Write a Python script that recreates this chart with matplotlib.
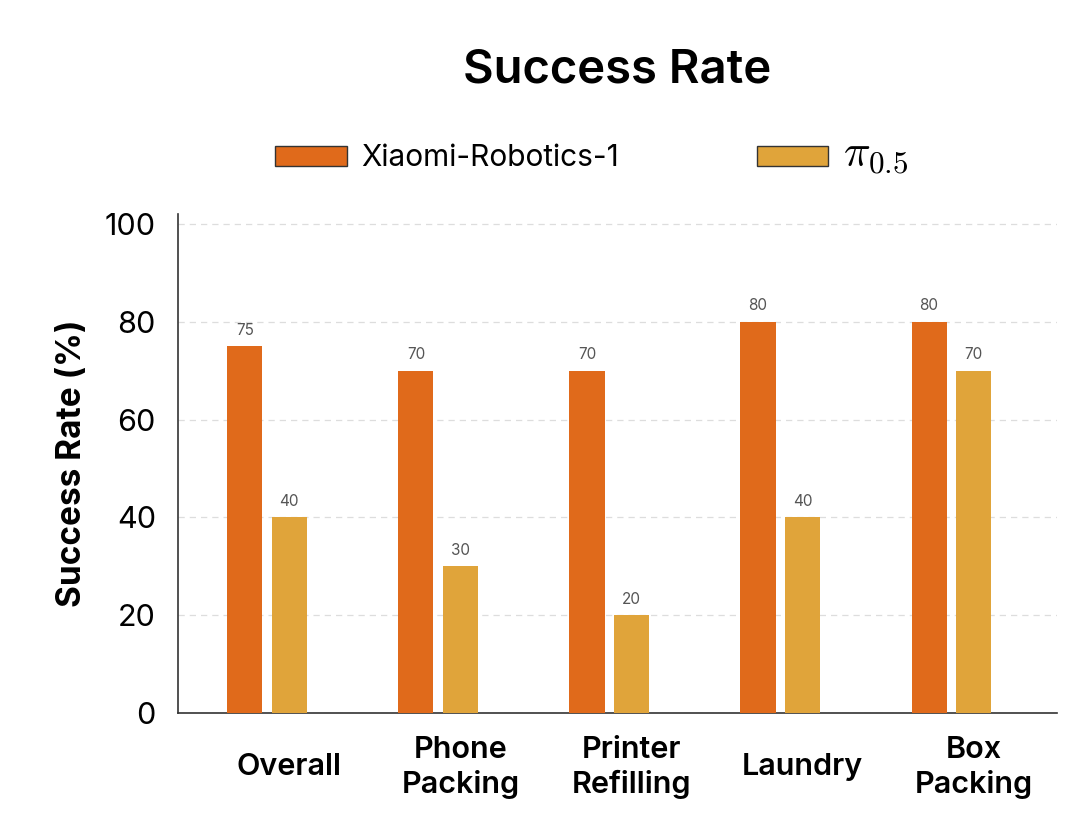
import matplotlib
matplotlib.use('Agg')
import matplotlib.pyplot as plt
import numpy as np

categories = ['Overall', 'Phone\nPacking', 'Printer\nRefilling', 'Laundry', 'Box\nPacking']
xiaomi = [75, 70, 70, 80, 80]
pi05 = [40, 30, 20, 40, 70]
series_names = ['Xiaomi-Robotics-1', r'$\pi_{0.5}$']

plt.rcParams['font.family'] = ['Inter', 'DejaVu Sans']
plt.rcParams['mathtext.fontset'] = 'cm'

orange = '#E06A1B'
yellow = '#E0A43A'

fig = plt.figure(figsize=(10.8, 8.36), dpi=100)
ax = fig.add_axes([0.165, 0.147, 0.814, 0.597])

x = np.arange(len(categories))
w = 0.205
off = 0.13
b1 = ax.bar(x - off, xiaomi, w, color=orange, label=series_names[0], zorder=3)
b2 = ax.bar(x + off, pi05, w, color=yellow, label=series_names[1], zorder=3)

for bars, vals in ((b1, xiaomi), (b2, pi05)):
    for rect, v in zip(bars, vals):
        ax.annotate(str(v), (rect.get_x() + rect.get_width() / 2, v),
                    xytext=(0, 6), textcoords='offset points',
                    ha='center', va='bottom', fontsize=11, color='#555555')

ax.set_xlim(-0.52, 4.62)
ax.set_ylim(0, 102)
ax.set_yticks([0, 20, 40, 60, 80, 100])
# labels sit under the second bar of each group, as in the source
ax.set_xticks(x + off)
ax.set_xticklabels(categories, fontsize=22, fontweight='semibold',
                   linespacing=1.25, va='center')
ax.tick_params(axis='both', length=0)
ax.tick_params(axis='y', labelsize=22, pad=16)
ax.tick_params(axis='x', pad=39)
ax.set_ylabel('Success Rate (%)', fontsize=24, fontweight='bold', labelpad=12)

ax.yaxis.grid(True, linestyle=(0, (5, 4)), color='#dddddd', linewidth=0.9, zorder=0)
ax.set_axisbelow(True)
for s in ('top', 'right'):
    ax.spines[s].set_visible(False)
for s in ('left', 'bottom'):
    ax.spines[s].set_color('#333333')
    ax.spines[s].set_linewidth(1.2)

fig.text(0.571, 0.916, 'Success Rate', ha='center', va='center',
         fontsize=34, fontweight='semibold')

leg = fig.legend(handles=[b1, b2], labels=series_names, loc='center',
                 bbox_to_anchor=(0.548, 0.815), ncol=2, frameon=False,
                 fontsize=21.5, handlelength=2.4, handleheight=0.65,
                 columnspacing=4.6, handletextpad=0.5)
for h in leg.legend_handles:
    h.set_edgecolor('#333333')
    h.set_linewidth(1.0)
for t in leg.get_texts():
    if '$' in t.get_text():
        t.set_fontsize(32)

fig.savefig('out.png', dpi=100)
